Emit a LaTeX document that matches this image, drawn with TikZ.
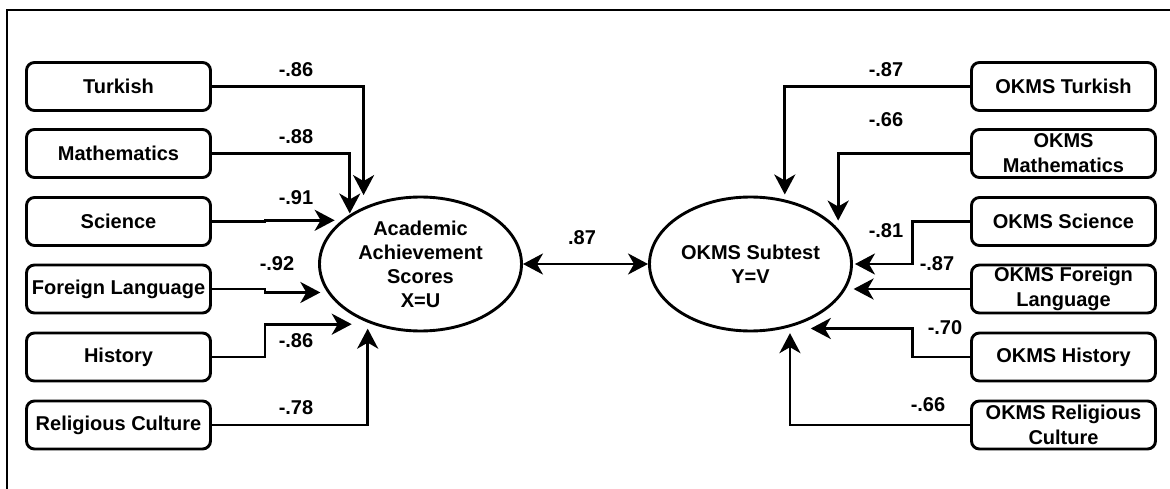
\documentclass[tikz,border=0pt]{standalone}
\usepackage{fontspec}
\setmainfont{Liberation Sans}
\usetikzlibrary{arrows.meta,shapes.geometric}
\begin{document}
\begin{tikzpicture}
      [x=1pt, y=-1pt, line width=2.9pt,
       box/.style={draw, rounded corners=8pt, minimum width=184pt, minimum height=48pt,
         inner sep=0pt, align=center, font=\fontsize{20}{25}\selectfont\bfseries},
       latent/.style={draw, ellipse, minimum width=202pt, minimum height=134pt,
         inner sep=0pt, align=center, font=\fontsize{20}{24}\selectfont\bfseries},
       coef/.style={inner sep=0pt, font=\fontsize{20}{24}\selectfont\bfseries},
       tip/.tip={Stealth[length=20pt, width=21pt, inset=6pt]},
       load/.style={-tip, line join=miter}]
      \useasboundingbox (0,0) rectangle (1170,489);
      \draw[line width=2pt] (6.5,489) -- (6.5,10) -- (1170,10);
      \node[box](1) at (118.5, 86.5) {Turkish};
      \node[box](2) at (118.5, 153.5) {Mathematics};
      \node[box](3) at (118.5, 221.5) {Science};
      \node[box](4) at (118.5, 289) {Foreign Language};
      \node[box](5) at (118.5, 357) {History};
      \node[box](6) at (118.5, 425) {Religious Culture};
      \node[box](7) at (1063.5, 86.5) {OKMS Turkish};
      \node[box](8) at (1063.5, 153.5) {OKMS\\Mathematics};
      \node[box](9) at (1063.5, 221.5) {OKMS Science};
      \node[box](10) at (1063.5, 289) {OKMS Foreign\\Language};
      \node[box](11) at (1063.5, 357) {OKMS History};
      \node[box](12) at (1063.5, 425) {OKMS Religious\\Culture};
      \node[latent](U) at (420.5, 264) {Academic\\Achievement\\Scores\\X=U};
      \node[latent](V) at (750.5, 264) {OKMS Subtest\\Y=V};
      \draw[load, shorten >=12pt](1.east) -| (U.135);
      \draw[load, shorten >=1pt](2.east) -| (U.145);
      \draw[load, shorten >=7pt](3.east) -- ++(53,0) |- (U.151);
      \draw[load, shorten >=7pt](4.east) -- ++(53,0) |- (U.197);
      \draw[load, shorten >=20pt](5.east) -- ++(53,0) |- (U.231);
      \draw[load, shorten >=6pt](6.east) -| (U.228);
      \draw[load, shorten >=5pt](7.west) -| (V.62);
      \draw[load, shorten >=8pt](8.west) -| (V.22);
      \draw[load, shorten >=2pt](9.west) -- ++(-58,0) |- (V.east);
      \draw[load, shorten >=8pt](10.west) -- (10.west -| V.345);
      \draw[load, shorten >=26pt](11.west) -- ++(-58,0) |- (V.298);
      \draw[load, shorten >=6pt](12.west) -| (V.302);
      \draw[tip-tip](U.east) -- (V.west);
      \node[coef](a1) at (296, 70) {-.86};
      \node[coef](a2) at (296, 137) {-.88};
      \node[coef](a3) at (296, 198) {-.91};
      \node[coef](a4) at (277, 264) {-.92};
      \node[coef](a5) at (296, 341) {-.86};
      \node[coef](a6) at (296, 408) {-.78};
      \node[coef](b1) at (886, 70) {-.87};
      \node[coef](b2) at (886, 120) {-.66};
      \node[coef](b3) at (886, 231) {-.81};
      \node[coef](b4) at (937, 264) {-.87};
      \node[coef](b5) at (945, 328) {-.70};
      \node[coef](b6) at (928, 405) {-.66};
      \node[coef](r) at (582, 238) {.87};
  \end{tikzpicture}
\end{document}
